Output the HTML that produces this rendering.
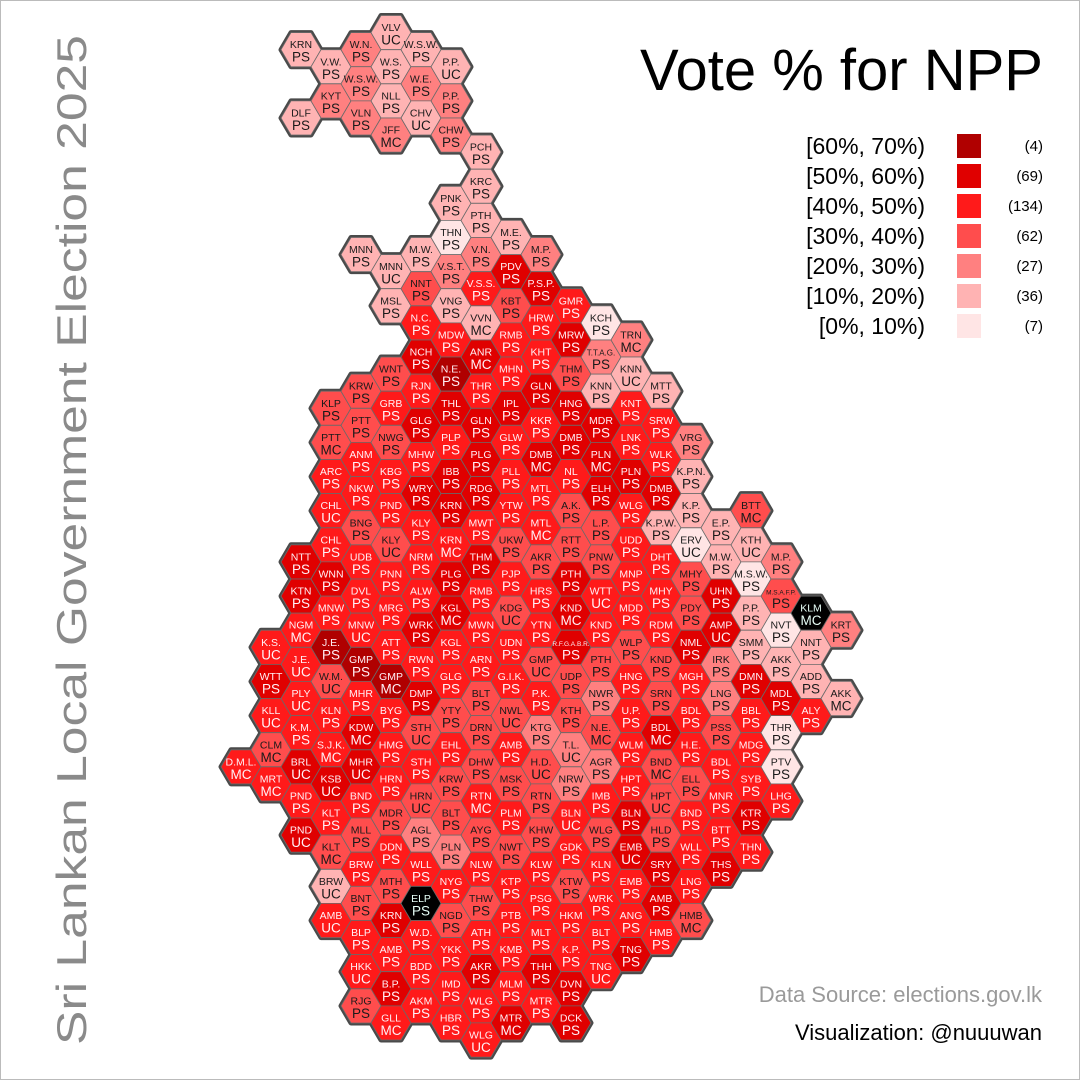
<!DOCTYPE html>
<html>
<head>
<meta charset="utf-8">
<style>
  html, body { margin:0; padding:0; background:#fff; }
  svg { display:block; font-family:"Liberation Sans", "DejaVu Sans", sans-serif; }
</style>
</head>
<body>
<svg id="chart" width="1080" height="1080" viewBox="0 0 1080 1080" xmlns="http://www.w3.org/2000/svg">
  <rect x="0.5" y="0.5" width="1079" height="1079" fill="#fff" stroke="#bbb" stroke-width="1"/>
  <text transform="translate(86,1045) rotate(-90)" font-size="42" fill="#8a8a8a" textLength="1010" lengthAdjust="spacingAndGlyphs">Sri Lankan Local Government Election 2025</text>
  <text x="1043" y="90" text-anchor="end" font-size="58" fill="#000">Vote % for NPP</text>
  <g id="hex-outline"></g>
  <g id="hex-fill"></g>
  <g id="legend"></g>
  <text x="1042" y="1002" text-anchor="end" font-size="22" fill="#9a9a9a">Data Source: elections.gov.lk</text>
  <text x="1042" y="1040" text-anchor="end" font-size="22" fill="#000">Visualization: @nuuuwan</text>
</svg>
<script>
// ---- data ----
const levelColors = ['#ffe5e5','#ffb3b3','#ff8080','#ff4d4d','#ff1a1a','#e00000','#b00000'];
const legendLabels = ['[60%, 70%)','[50%, 60%)','[40%, 50%)','[30%, 40%)','[20%, 30%)','[10%, 20%)','[0%, 10%)'];
const legendLevels = [6,5,4,3,2,1,0];
const legendCounts = [4,69,134,62,27,36,7];

// column data: "col|startHalfRow|CODE/TYPE/LEVEL,..."  ('-' = empty cell)
const colData = [
 "0|43|D.M.L./MC/4",
 "1|36|K.S./UC/4,WTT/PS/5,KLL/UC/4,CLM/MC/3,MRT/MC/4",
 "2|1|KRN/PS/1,-,DLF/PS/1",
 "2|31|NTT/PS/5,KTN/PS/5,NGM/MC/4,J.E./UC/4,PLY/UC/4,K.M./PS/4,BRL/UC/5,PND/PS/4,PND/UC/5",
 "3|2|V.W./PS/1,KYT/PS/2",
 "3|22|KLP/PS/3,PTT/MC/3,ARC/PS/4,CHL/UC/4,CHL/PS/4,WNN/PS/5,MNW/PS/4,J.E./PS/6,W.M./UC/3,KLN/PS/4,S.J.K./MC/4,KSB/UC/5,KLT/PS/4,KLT/MC/3,BRW/UC/1,AMB/UC/4",
 "4|1|W.N./PS/2,W.S.W./PS/2,VLN/PS/2",
 "4|13|MNN/PS/1",
 "4|21|KRW/PS/3,PTT/PS/3,ANM/PS/4,NKW/PS/4,BNG/PS/3,UDB/PS/4,DVL/PS/4,MNW/UC/4,GMP/PS/6,MHR/PS/4,KDW/MC/5,MHR/UC/5,BND/PS/4,MLL/PS/3,BRW/PS/4,BNT/PS/3,BLP/PS/4,HKK/UC/4,RJG/PS/3",
 "5|0|VLV/UC/1,W.S./PS/1,NLL/PS/1,JFF/MC/2",
 "5|14|MNN/UC/1,MSL/PS/1",
 "5|20|WNT/PS/3,GRB/PS/4,NWG/PS/3,KBG/PS/4,PND/PS/4,KLY/UC/3,PNN/PS/4,MRG/PS/4,ATT/PS/4,GMP/MC/6,BYG/PS/4,HMG/PS/4,HRN/PS/4,MDR/PS/3,DDN/PS/4,MTH/PS/3,KRN/PS/5,AMB/PS/4,B.P./PS/5,GLL/MC/4",
 "6|1|W.S.W./PS/1,W.E./PS/2,CHV/UC/1",
 "6|13|M.W./PS/1,NNT/PS/3,N.C./PS/4,NCH/PS/5,RJN/PS/4,GLG/PS/5,MHW/PS/4,WRY/PS/5,KLY/PS/4,NRM/PS/4,ALW/PS/4,WRK/PS/5,RWN/PS/4,DMP/PS/5,STH/UC/3,STH/PS/4,HRN/UC/3,AGL/PS/2,WLL/PS/4,ELP/PS/9,W.D./PS/4,BDD/PS/4,AKM/PS/4",
 "7|2|P.P./UC/1,P.P./PS/2,CHW/PS/2",
 "7|10|PNK/PS/1,THN/PS/0,V.S.T./PS/2,VNG/PS/1,MDW/PS/4,N.E./PS/6,THL/PS/5,PLP/PS/4,IBB/PS/5,KRN/PS/5,KRN/MC/4,PLG/PS/5,KGL/MC/5,KGL/PS/4,GLG/PS/4,YTY/PS/3,EHL/PS/4,KRW/PS/3,BLT/PS/3,PLN/PS/2,NYG/PS/4,NGD/PS/3,YKK/PS/4,IMD/PS/4,HBR/PS/4",
 "8|7|PCH/PS/1,KRC/PS/1,PTH/PS/1,V.N./PS/2,V.S.S./PS/4,VVN/MC/1,ANR/MC/5,THR/PS/4,GLN/PS/5,PLG/PS/5,RDG/PS/5,MWT/PS/4,THM/PS/5,RMB/PS/4,MWN/PS/4,ARN/PS/4,BLT/PS/3,DRN/PS/3,DHW/PS/3,RTN/MC/4,AYG/PS/3,NLW/PS/4,THW/PS/3,ATH/PS/4,AKR/PS/5,WLG/PS/4,WLG/UC/4",
 "9|12|M.E./PS/1,PDV/PS/5,KBT/PS/3,RMB/PS/4,MHN/PS/4,IPL/PS/5,GLW/PS/4,PLL/PS/4,YTW/PS/4,UKW/PS/3,PJP/PS/4,KDG/UC/3,UDN/PS/4,G.I.K./PS/4,NWL/UC/3,AMB/PS/4,MSK/PS/3,PLM/PS/4,NWT/PS/3,KTP/PS/4,PTB/PS/4,KMB/PS/4,MLM/PS/4,MTR/MC/5",
 "10|13|M.P./PS/2,P.S.P./PS/5,HRW/PS/4,KHT/PS/4,GLN/PS/5,KKR/PS/4,DMB/MC/5,MTL/PS/4,MTL/MC/4,AKR/PS/3,HRS/PS/4,YTN/PS/4,GMP/UC/3,P.K./PS/4,KTG/PS/2,H.D./UC/3,RTN/PS/3,KHW/PS/3,KLW/PS/4,PSG/PS/4,MLT/PS/4,THH/PS/5,MTR/PS/4",
 "11|16|GMR/PS/4,MRW/PS/5,THM/PS/3,HNG/PS/5,DMB/PS/5,NL/PS/4,A.K./PS/3,RTT/PS/3,PTH/PS/5,KND/MC/5,R.F.G.A.B.R./PS/5,UDP/PS/3,KTH/PS/3,T.L./UC/2,NRW/PS/2,BLN/UC/4,GDK/PS/4,KTW/PS/3,HKM/PS/4,K.P./PS/4,DVN/PS/5,DCK/PS/5",
 "12|17|KCH/PS/0,T.T.A.G./PS/2,KNN/PS/1,MDR/PS/5,PLN/MC/5,ELH/PS/5,L.P./PS/3,PNW/PS/3,WTT/UC/4,KND/PS/4,PTH/PS/3,NWR/PS/2,N.E./MC/3,AGR/PS/2,IMB/PS/4,WLG/PS/3,KLN/PS/4,WRK/PS/4,BLT/PS/4,TNG/UC/4",
 "13|18|TRN/MC/2,KNN/UC/1,KNT/PS/4,LNK/PS/4,PLN/PS/5,WLG/PS/4,UDD/PS/4,MNP/PS/4,MDD/PS/4,WLP/PS/3,HNG/PS/4,U.P./PS/4,WLM/PS/4,HPT/PS/4,BLN/PS/5,EMB/UC/5,EMB/PS/4,ANG/PS/4,TNG/PS/5",
 "14|21|MTT/PS/1,SRW/PS/4,WLK/PS/4,DMB/PS/5,K.P.W./PS/1,DHT/PS/4,MHY/PS/4,RDM/PS/4,KND/PS/3,SRN/PS/3,BDL/MC/5,BND/MC/3,HPT/UC/3,HLD/PS/3,SRY/PS/5,AMB/PS/5,HMB/PS/4",
 "15|24|VRG/PS/2,K.P.N./PS/1,K.P./PS/1,ERV/UC/0,MHY/PS/3,PDY/PS/3,NML/PS/5,MGH/PS/4,BDL/PS/4,H.E./PS/4,ELL/PS/3,BND/PS/4,WLL/PS/4,LNG/PS/4,HMB/MC/3",
 "16|29|E.P./PS/1,M.W./PS/1,UHN/PS/5,AMP/UC/5,IRK/PS/2,LNG/PS/2,PSS/PS/3,BDL/PS/4,MNR/PS/4,BTT/PS/4,THS/PS/5",
 "17|28|BTT/MC/3,KTH/UC/1,M.S.W./PS/0,P.P./PS/1,SMM/PS/1,DMN/PS/5,BBL/PS/4,MDG/PS/4,SYB/PS/4,KTR/PS/5,THN/PS/4",
 "18|31|M.P./PS/2,M.S.A.F.P./PS/3,NVT/PS/0,AKK/PS/1,MDL/PS/5,THR/PS/0,PTV/PS/0,LHG/PS/4",
 "19|34|KLM/MC/9,NNT/PS/1,ADD/PS/1,ALY/PS/4",
 "20|35|KRT/PS/2,-,AKK/MC/1"
];

const hexCodes = [];
const hexTypes = [];
const hexLevels = [];
const hexCols = [];
const hexRows = [];
for (const line of colData) {
  const parts = line.split('|');
  const c = +parts[0];
  let h = +parts[1];
  for (const item of parts[2].split(',')) {
    if (item !== '-') {
      const f = item.split('/');
      hexCodes.push(f[0]); hexTypes.push(f[1]); hexLevels.push(+f[2]);
      hexCols.push(c); hexRows.push(h);
    }
    h += 2;
  }
}

// ---- axis / layout functions ----
const xOf = c => 241 + 30 * c;
const yOf = h => 32.6 + 17.075 * h;
const RX = 20, RY = 17.075;
function hexPoints(cx, cy) {
  return [[cx-RX,cy],[cx-RX/2,cy-RY],[cx+RX/2,cy-RY],[cx+RX,cy],[cx+RX/2,cy+RY],[cx-RX/2,cy+RY]]
    .map(p => p[0].toFixed(1)+','+p[1].toFixed(1)).join(' ');
}
const NS = 'http://www.w3.org/2000/svg';
const outline = document.getElementById('hex-outline');
const fillG = document.getElementById('hex-fill');

for (let k = 0; k < hexCodes.length; k++) {
  const cx = xOf(hexCols[k]), cy = yOf(hexRows[k]);
  const o = document.createElementNS(NS, 'polygon');
  o.setAttribute('points', hexPoints(cx, cy));
  o.setAttribute('fill', '#4a4a4a');
  o.setAttribute('stroke', '#4a4a4a');
  o.setAttribute('stroke-width', '5');
  o.setAttribute('stroke-linejoin', 'round');
  
  
  outline.appendChild(o);
}
for (let k = 0; k < hexCodes.length; k++) {
  const cx = xOf(hexCols[k]), cy = yOf(hexRows[k]);
  const lv = hexLevels[k];
  const g = document.createElementNS(NS, 'g');
  
  
  const p = document.createElementNS(NS, 'polygon');
  p.setAttribute('points', hexPoints(cx, cy));
  p.setAttribute('fill', lv === 9 ? '#000' : levelColors[lv]);
  p.setAttribute('stroke', '#6a6a6a');
  p.setAttribute('stroke-width', '0.8');
  
  
  g.appendChild(p);
  const tc = lv === 9 ? '#e8fff8' : (lv >= 4 ? '#fff0f6' : '#1a1a1a');
  const code = hexCodes[k];
  const len = code.replace(/\./g,'').length;
  const fs = len <= 3 ? 10.5 : (len === 4 ? 8 : 6.5);
  const t1 = document.createElementNS(NS, 'text');
  t1.setAttribute('x', cx); t1.setAttribute('y', cy - 1.5);
  t1.setAttribute('text-anchor', 'middle');
  t1.setAttribute('font-size', fs);
  t1.setAttribute('fill', tc);
  
  
  t1.textContent = code;
  g.appendChild(t1);
  const t2 = document.createElementNS(NS, 'text');
  t2.setAttribute('x', cx); t2.setAttribute('y', cy + 12);
  t2.setAttribute('text-anchor', 'middle');
  t2.setAttribute('font-size', 13.5);
  t2.setAttribute('fill', tc);
  
  
  t2.textContent = hexTypes[k];
  g.appendChild(t2);
  fillG.appendChild(g);
}

// ---- legend ----
const legend = document.getElementById('legend');
for (let k = 0; k < legendLabels.length; k++) {
  const y = 145 + 30 * k;
  const t = document.createElementNS(NS, 'text');
  t.setAttribute('x', 925); t.setAttribute('y', y + 9);
  t.setAttribute('text-anchor', 'end'); t.setAttribute('font-size', 23); t.setAttribute('fill', '#000');
  
  
  t.textContent = legendLabels[k];
  legend.appendChild(t);
  const r = document.createElementNS(NS, 'rect');
  r.setAttribute('x', 957); r.setAttribute('y', y - 11);
  r.setAttribute('width', 24); r.setAttribute('height', 24);
  r.setAttribute('fill', levelColors[legendLevels[k]]);
  
  
  legend.appendChild(r);
  const n = document.createElementNS(NS, 'text');
  n.setAttribute('x', 1043); n.setAttribute('y', y + 6);
  n.setAttribute('text-anchor', 'end'); n.setAttribute('font-size', 15); n.setAttribute('fill', '#000');
  
  
  n.textContent = '(' + legendCounts[k] + ')';
  legend.appendChild(n);
}
</script>
</body>
</html>
